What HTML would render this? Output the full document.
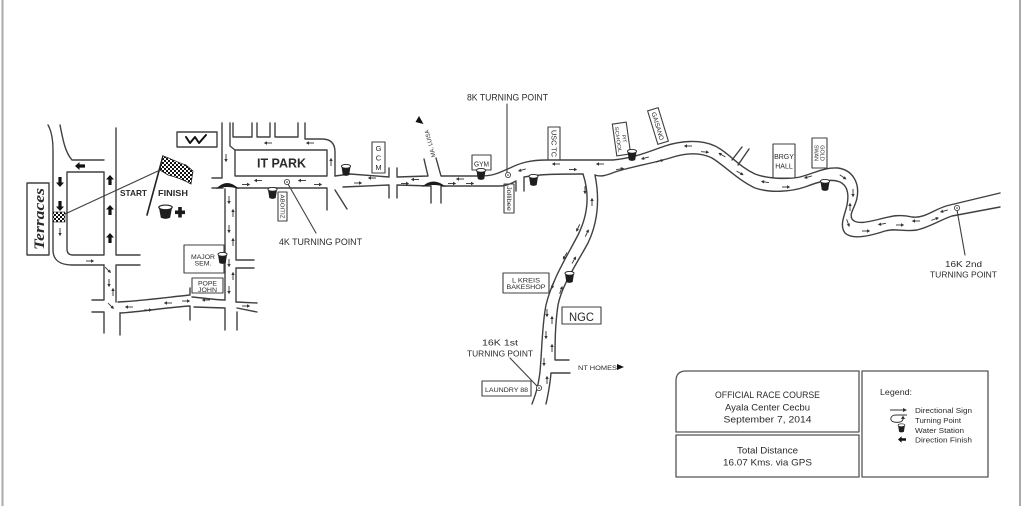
<!DOCTYPE html>
<html><head><meta charset="utf-8"><style>
html,body{margin:0;padding:0;background:#fff;}
svg{display:block;}
text{font-family:"Liberation Sans",Arial,sans-serif;fill:#2a2a2a;}
.serif{font-family:"Liberation Serif",serif;}
</style></head><body>
<svg width="1024" height="506" viewBox="0 0 1024 506" xmlns="http://www.w3.org/2000/svg">
<defs>
<pattern id="chk" width="4" height="4" patternUnits="userSpaceOnUse"><rect width="4" height="4" fill="#fff"/><rect width="2" height="2" fill="#111"/><rect x="2" y="2" width="2" height="2" fill="#111"/></pattern>
<g id="ta"><path d="M0 4V-2.5" stroke="#333" stroke-width="0.9" fill="none"/><path d="M-1.7 -1L0 -4.2L1.7 -1Z" fill="#333"/></g>
<path id="ba" d="M0 -5L4 -0.5L1.6 -0.5L1.6 5L-1.6 5L-1.6 -0.5L-4 -0.5Z" fill="#111"/>
<g id="cup"><path d="M-4.5 0.5L-3.2 9Q0 10.8 3.2 9L4.5 0.5Z" fill="#1e1e1e"/><ellipse cx="0" cy="0.3" rx="4.6" ry="1.9" fill="#fff" stroke="#222" stroke-width="0.9"/></g>
<g id="tp"><circle r="2.6" fill="#fff" stroke="#333" stroke-width="0.8"/><circle r="0.8" fill="#333"/></g>
</defs>

<!-- borders -->
<line x1="2.5" y1="0" x2="2.5" y2="506" stroke="#aaa" stroke-width="2"/>
<line x1="1020" y1="0" x2="1020" y2="506" stroke="#aaa" stroke-width="2"/>

<g fill="none" stroke="#404040" stroke-width="1.4" stroke-linejoin="round" stroke-linecap="round">
<!-- left network -->
<path d="M48 125C52 132 53 140 53 150V250C53 260 60 265 72 265H104"/>
<path d="M60 125C63 140 65 152 72 160H104"/>
<path d="M67 172H104V255H73Q67 255 67 249Z"/>
<path d="M116 128V255H140M117 265H140"/>
<path d="M104 265V300H92M92 312H104V333M116 265V302M120 313V335"/>
<path d="M118 302C140 301 170 297 190 295V288M192 297C205 298 215 300 225 300M236 302L257 303"/>
<path d="M120 313C140 312 170 307 190 306V320M194 307L225 308V330M237 312V330M237 308L257 312"/>
<!-- vertical road 2 -->
<path d="M222 123V178M230 123V146L235 150"/>
<path d="M225 189V300M236 188V260M236 268V302M236 260H254M236 268H254"/>
<!-- IT park road -->
<path d="M233 123V137H252V123M257 123V137H270V123M275 123V137H298V123M305 123V139H322Q335 139 335 152V176"/>
<rect x="235" y="150" width="92" height="26"/>
<!-- main road -->
<path d="M212 178H222M212 188H223"/>
<path d="M236 188H327V210M335 190L347 209M343 187L389 185V198M397 198V185L431 186V203M441 203V186L500 186C507 186 512 183 516 181V191M524 191V177C540 174 560 174 583 174"/>
<path d="M335 176L350 174L389 177V168M397 168V177L428 176L424 159M436 158L441 176L480 176C495 176 500 172 510 168C520 163 530 160 547 160L613 160C635 158 650 151 665 146C680 141 700 139 715 146C728 152 738 166 755 174C765 178 785 180 800 177C815 173 825 167 838 168C852 170 860 182 857 198C855 208 849 213 852 219C856 225 868 222 880 219C892 216 900 214 912 217C925 219 935 208 950 205L1000 193"/>
<path d="M595 175C600 177 605 176 615 172C630 167 650 164 670 158C685 153 700 152 712 158C725 166 738 180 755 188C770 193 790 192 805 187C818 182 830 178 840 182C848 186 849 195 847 205C845 215 839 225 845 233C852 240 870 236 885 231C895 228 905 232 917 230C930 227 940 220 952 216L1000 207"/>
<path d="M732 160L742 147M738 165L749 149"/>
<!-- NGC road -->
<path d="M583 174C590 195 588 215 578 235C566 258 552 280 546 305C542 325 542 350 540 372C538 388 535 396 532 404"/>
<path d="M595 175C600 200 598 222 588 243C576 265 562 285 558 305C555 325 555 345 555 360H569M570 373H551C550 385 548 395 546 404"/>
<!-- leaders -->
<path d="M158 171L65 214" stroke-width="1.1"/>
<path d="M288 184L316 233" stroke-width="1.1"/>
<path d="M507 104V173" stroke-width="1.1"/>
<path d="M510 358L537 386" stroke-width="1.1"/>
<path d="M957 210L965 255" stroke-width="1.1"/>
<!-- boxes -->
<rect x="27" y="183" width="22" height="72"/>
<rect x="177" y="132" width="40" height="15"/>
<rect x="278" y="192" width="9" height="29" stroke-width="1.1"/>
<rect x="372" y="142" width="13" height="31" stroke-width="1.1"/>
<rect x="472" y="155" width="19" height="15" stroke-width="1.1"/>
<rect x="504" y="184" width="10" height="29" stroke-width="1.1"/>
<rect x="548" y="127" width="12" height="33" stroke-width="1.1"/>
<rect x="773" y="144" width="22" height="34" stroke-width="1.1"/>
<rect x="812" y="138" width="15" height="30" stroke-width="1.1"/>
<rect x="184" y="245" width="40" height="28" stroke-width="1.1"/>
<rect x="192" y="278" width="31" height="15" stroke-width="1.1"/>
<rect x="503" y="273" width="46" height="20" stroke-width="1.1"/>
<rect x="562" y="307" width="39" height="17" stroke-width="1.1"/>
<rect x="482" y="381" width="49" height="15" stroke-width="1.1"/>
<!-- legend boxes -->
<path d="M686 371H859V432H676V381Q676 371 686 371Z" stroke="#555" stroke-width="1.3"/>
<rect x="676" y="435" width="183" height="42" stroke="#555" stroke-width="1.3"/>
<rect x="862" y="371" width="126" height="106" stroke="#555" stroke-width="1.3"/>
<!-- check glyph -->
<path d="M186 137L190 143L195 137L199 143L206 135" stroke="#111" stroke-width="2"/>
<!-- flag pole -->
<path d="M147 215L163 156" stroke="#222" stroke-width="1.6"/>
</g>

<!-- tilted boxes -->
<g transform="translate(621.5 139) rotate(-8)">
<rect x="-7" y="-16" width="14" height="32" fill="none" stroke="#404040" stroke-width="1.1"/>
<text transform="translate(1 0) rotate(90)" text-anchor="middle" font-size="5">PIT</text>
<text transform="translate(-5 0) rotate(90)" text-anchor="middle" font-size="5" textLength="26" lengthAdjust="spacingAndGlyphs">SCHOOL</text>
</g>
<g transform="translate(658 126) rotate(-17)">
<rect x="-5.5" y="-17.5" width="11" height="35" fill="none" stroke="#404040" stroke-width="1.1"/>
<text transform="translate(-2.5 0) rotate(90)" text-anchor="middle" font-size="6.5" textLength="29" lengthAdjust="spacingAndGlyphs">GAISANO</text>
</g>

<!-- flags & special shapes -->
<path d="M163 156C170 158 176 162 186 165L193 171L191 184C184 180 176 177 168 175L160 170Z" fill="url(#chk)" stroke="#222" stroke-width="0.8"/>
<rect x="53" y="212" width="12" height="10" fill="url(#chk)" stroke="#222" stroke-width="0.6"/>
<path d="M216 189Q227 177 239 189Q227 185 216 189Z" fill="#1a1a1a"/>
<path d="M422 187Q433 176 446 187Q433 183 422 187Z" fill="#1a1a1a"/>
<polygon points="419,116 423.5,124 415.5,122" fill="#111"/>
<polygon points="617,364 624,367 617,370" fill="#111"/>
<rect x="175" y="210.5" width="10" height="3.6" fill="#1a1a1a"/>
<rect x="178.2" y="207" width="3.6" height="10.5" fill="#1a1a1a"/>

<!-- cups -->
<use href="#cup" transform="translate(165.5 207) scale(1.45 1.2)"/>
<use href="#cup" transform="translate(272.5 189)"/>
<use href="#cup" transform="translate(346 166)"/>
<use href="#cup" transform="translate(481 170)"/>
<use href="#cup" transform="translate(533.5 176)"/>
<use href="#cup" transform="translate(632 151)"/>
<use href="#cup" transform="translate(825 181)"/>
<use href="#cup" transform="translate(222.5 254)"/>
<use href="#cup" transform="translate(569.5 273)"/>
<use href="#cup" transform="translate(901.5 425) scale(0.75)"/>

<!-- turning points -->
<use href="#tp" transform="translate(287 182)"/>
<use href="#tp" transform="translate(508 175)"/>
<use href="#tp" transform="translate(539 388)"/>
<use href="#tp" transform="translate(957 208)"/>

<!-- bold arrows -->
<use href="#ba" transform="translate(80 166) rotate(-90)"/>
<use href="#ba" transform="translate(60 182) rotate(180)"/>
<use href="#ba" transform="translate(60 206) rotate(180)"/>
<use href="#ba" transform="translate(110 180)"/>
<use href="#ba" transform="translate(110 210)"/>
<use href="#ba" transform="translate(110 238)"/>
<use href="#ba" transform="translate(902 439.5) rotate(-90) scale(0.8)"/>

<!-- thin arrows -->
<g>
<use href="#ta" transform="translate(60 232) rotate(180)"/>
<use href="#ta" transform="translate(90 261) rotate(90)"/>
<use href="#ta" transform="translate(108 270) rotate(135)"/>
<use href="#ta" transform="translate(109 283) rotate(180)"/>
<use href="#ta" transform="translate(113 292)"/>
<use href="#ta" transform="translate(111 306) rotate(135)"/>
<use href="#ta" transform="translate(129 307) rotate(-90)"/>
<use href="#ta" transform="translate(148 310) rotate(90)"/>
<use href="#ta" transform="translate(168 303) rotate(-90)"/>
<use href="#ta" transform="translate(186 301) rotate(90)"/>
<use href="#ta" transform="translate(206 300) rotate(-90)"/>
<use href="#ta" transform="translate(246 306) rotate(90)"/>
<use href="#ta" transform="translate(226 158) rotate(180)"/>
<use href="#ta" transform="translate(229 200) rotate(180)"/>
<use href="#ta" transform="translate(233 213)"/>
<use href="#ta" transform="translate(229 229) rotate(180)"/>
<use href="#ta" transform="translate(233 242)"/>
<use href="#ta" transform="translate(229 263) rotate(180)"/>
<use href="#ta" transform="translate(233 276)"/>
<use href="#ta" transform="translate(229 290) rotate(180)"/>
<use href="#ta" transform="translate(268 143) rotate(-90)"/>
<use href="#ta" transform="translate(310 143) rotate(-90)"/>
<use href="#ta" transform="translate(331 162)"/>
<use href="#ta" transform="translate(258 180.5) rotate(-90)"/>
<use href="#ta" transform="translate(302 180.5) rotate(-90)"/>
<use href="#ta" transform="translate(246 184.5) rotate(90)"/>
<use href="#ta" transform="translate(318 184.5) rotate(90)"/>
<use href="#ta" transform="translate(372 178) rotate(-90)"/>
<use href="#ta" transform="translate(358 183) rotate(90)"/>
<use href="#ta" transform="translate(415 179.5) rotate(-90)"/>
<use href="#ta" transform="translate(405 183.5) rotate(90)"/>
<use href="#ta" transform="translate(460 179) rotate(-90)"/>
<use href="#ta" transform="translate(452 183.5) rotate(90)"/>
<use href="#ta" transform="translate(470 183.5) rotate(90)"/>
<use href="#ta" transform="translate(522 170) rotate(-105)"/>
<use href="#ta" transform="translate(556 164) rotate(-90)"/>
<use href="#ta" transform="translate(573 169.5) rotate(90)"/>
<use href="#ta" transform="translate(600 164) rotate(-90)"/>
<use href="#ta" transform="translate(620 169) rotate(80)"/>
<use href="#ta" transform="translate(645 158) rotate(-105)"/>
<use href="#ta" transform="translate(660 161) rotate(72)"/>
<use href="#ta" transform="translate(688 146) rotate(-90)"/>
<use href="#ta" transform="translate(705 152) rotate(95)"/>
<use href="#ta" transform="translate(722 155) rotate(-60)"/>
<use href="#ta" transform="translate(740 173) rotate(120)"/>
<use href="#ta" transform="translate(765 182) rotate(-80)"/>
<use href="#ta" transform="translate(786 187) rotate(90)"/>
<use href="#ta" transform="translate(808 177) rotate(-105)"/>
<use href="#ta" transform="translate(843 177) rotate(125)"/>
<use href="#ta" transform="translate(853 193) rotate(180)"/>
<use href="#ta" transform="translate(850 207)"/>
<use href="#ta" transform="translate(848 223) rotate(160)"/>
<use href="#ta" transform="translate(866 231) rotate(90)"/>
<use href="#ta" transform="translate(882 224) rotate(-100)"/>
<use href="#ta" transform="translate(900 225) rotate(90)"/>
<use href="#ta" transform="translate(916 221) rotate(-90)"/>
<use href="#ta" transform="translate(935 219) rotate(70)"/>
<use href="#ta" transform="translate(944 211) rotate(-105)"/>
<use href="#ta" transform="translate(585 190) rotate(180)"/>
<use href="#ta" transform="translate(592 202)"/>
<use href="#ta" transform="translate(578 228) rotate(205)"/>
<use href="#ta" transform="translate(587 233) rotate(25)"/>
<use href="#ta" transform="translate(565 256) rotate(210)"/>
<use href="#ta" transform="translate(574 260) rotate(30)"/>
<use href="#ta" transform="translate(553 285) rotate(200)"/>
<use href="#ta" transform="translate(561 290) rotate(20)"/>
<use href="#ta" transform="translate(547 313) rotate(180)"/>
<use href="#ta" transform="translate(552 320)"/>
<use href="#ta" transform="translate(546 335) rotate(180)"/>
<use href="#ta" transform="translate(552 348)"/>
<use href="#ta" transform="translate(544 362) rotate(180)"/>
<use href="#ta" transform="translate(547 380)"/>
<!-- legend arrow -->
<path d="M890 410H906" stroke="#333" stroke-width="1"/>
<path d="M903 408L907 410L903 412Z" fill="#333"/>
<path d="M907 415H896C890 415 889 421 894 422C899 423 903 422 903 418.5" fill="none" stroke="#333" stroke-width="1"/>
<path d="M901 419L903 415.5L905 419Z" fill="#333"/>
</g>

<!-- labels -->
<text class="serif" transform="translate(44 219) rotate(-90)" text-anchor="middle" font-style="italic" font-weight="bold" font-size="15" textLength="62" lengthAdjust="spacingAndGlyphs">Terraces</text>
<text x="120" y="196" font-size="8.5" font-weight="bold" textLength="27" lengthAdjust="spacingAndGlyphs">START</text>
<text x="158" y="196" font-size="8.5" font-weight="bold" textLength="30" lengthAdjust="spacingAndGlyphs">FINISH</text>
<text x="257" y="167.5" font-size="12.5" font-weight="bold" textLength="49" lengthAdjust="spacingAndGlyphs">IT PARK</text>
<text transform="translate(280.5 206.5) rotate(90)" text-anchor="middle" font-size="5.5" textLength="24" lengthAdjust="spacingAndGlyphs">ABOITIZ</text>
<text x="279" y="245" font-size="9" textLength="83" lengthAdjust="spacingAndGlyphs">4K TURNING POINT</text>
<text x="378.5" y="151" font-size="7.5" text-anchor="middle">G</text>
<text x="378.5" y="160.5" font-size="7.5" text-anchor="middle">C</text>
<text x="378.5" y="170" font-size="7.5" text-anchor="middle">M</text>
<text transform="translate(432 143) rotate(-105)" text-anchor="middle" font-size="6" textLength="28" lengthAdjust="spacingAndGlyphs">MA. LUISA</text>
<text x="467" y="100.5" font-size="9" textLength="81" lengthAdjust="spacingAndGlyphs">8K TURNING POINT</text>
<text x="481.5" y="166.5" font-size="7" text-anchor="middle" textLength="15" lengthAdjust="spacingAndGlyphs">GYM</text>
<text transform="translate(507 198.5) rotate(90)" text-anchor="middle" font-size="6.5" textLength="25" lengthAdjust="spacingAndGlyphs">Jollibee</text>
<text transform="translate(551.5 143.5) rotate(90)" text-anchor="middle" font-size="7" textLength="27" lengthAdjust="spacingAndGlyphs">USC TC</text>
<text x="784" y="159" font-size="7" text-anchor="middle">BRGY</text>
<text x="784" y="168.5" font-size="7" text-anchor="middle">HALL</text>
<text transform="translate(820.5 153) rotate(90)" text-anchor="middle" font-size="5.5">GOLD</text>
<text transform="translate(814.5 153) rotate(90)" text-anchor="middle" font-size="5.5">SWAN</text>
<text x="963.5" y="267" font-size="8.5" text-anchor="middle" textLength="37" lengthAdjust="spacingAndGlyphs">16K  2nd</text>
<text x="963.5" y="277.5" font-size="8.5" text-anchor="middle" textLength="67" lengthAdjust="spacingAndGlyphs">TURNING POINT</text>
<text x="526" y="282.5" font-size="6.5" text-anchor="middle" textLength="28" lengthAdjust="spacingAndGlyphs">L KREIS</text>
<text x="526" y="289" font-size="6.5" text-anchor="middle" textLength="39" lengthAdjust="spacingAndGlyphs">BAKESHOP</text>
<text x="581.5" y="321" font-size="12" text-anchor="middle" textLength="25" lengthAdjust="spacingAndGlyphs">NGC</text>
<text x="578" y="370" font-size="6.5" textLength="39" lengthAdjust="spacingAndGlyphs">NT HOMES</text>
<text x="500" y="345.5" font-size="8.5" text-anchor="middle" textLength="36" lengthAdjust="spacingAndGlyphs">16K  1st</text>
<text x="500" y="356.5" font-size="8.5" text-anchor="middle" textLength="66" lengthAdjust="spacingAndGlyphs">TURNING POINT</text>
<text x="506.5" y="392" font-size="6.5" text-anchor="middle" textLength="43" lengthAdjust="spacingAndGlyphs">LAUNDRY 88</text>
<text x="203" y="259" font-size="6" text-anchor="middle" textLength="24" lengthAdjust="spacingAndGlyphs">MAJOR</text>
<text x="203" y="265.5" font-size="6" text-anchor="middle" textLength="17" lengthAdjust="spacingAndGlyphs">SEM.</text>
<text x="207.5" y="285.5" font-size="6" text-anchor="middle" textLength="19" lengthAdjust="spacingAndGlyphs">POPE</text>
<text x="207.5" y="292" font-size="6" text-anchor="middle" textLength="19" lengthAdjust="spacingAndGlyphs">JOHN</text>

<!-- legend text -->
<text x="767.5" y="398" font-size="9.3" text-anchor="middle" textLength="105" lengthAdjust="spacingAndGlyphs" fill="#333">OFFICIAL RACE COURSE</text>
<text x="767.5" y="410.5" font-size="9.5" text-anchor="middle" textLength="85" lengthAdjust="spacingAndGlyphs" fill="#333">Ayala Center Cecbu</text>
<text x="767.5" y="422.5" font-size="9.5" text-anchor="middle" textLength="88" lengthAdjust="spacingAndGlyphs" fill="#333">September 7,  2014</text>
<text x="767.5" y="453.5" font-size="9.5" text-anchor="middle" textLength="61" lengthAdjust="spacingAndGlyphs" fill="#333">Total Distance</text>
<text x="767.5" y="465.5" font-size="9.5" text-anchor="middle" textLength="89" lengthAdjust="spacingAndGlyphs" fill="#333">16.07 Kms. via GPS</text>
<text x="880" y="395" font-size="8" textLength="32" lengthAdjust="spacingAndGlyphs" fill="#444">Legend:</text>
<text x="915" y="413" font-size="7.3" textLength="57" lengthAdjust="spacingAndGlyphs" fill="#444">Directional Sign</text>
<text x="915" y="423" font-size="7.3" textLength="46" lengthAdjust="spacingAndGlyphs" fill="#444">Turning Point</text>
<text x="915" y="433" font-size="7.3" textLength="49" lengthAdjust="spacingAndGlyphs" fill="#444">Water Station</text>
<text x="915" y="442.5" font-size="7.3" textLength="57" lengthAdjust="spacingAndGlyphs" fill="#444">Direction Finish</text>
</svg>
</body></html>
